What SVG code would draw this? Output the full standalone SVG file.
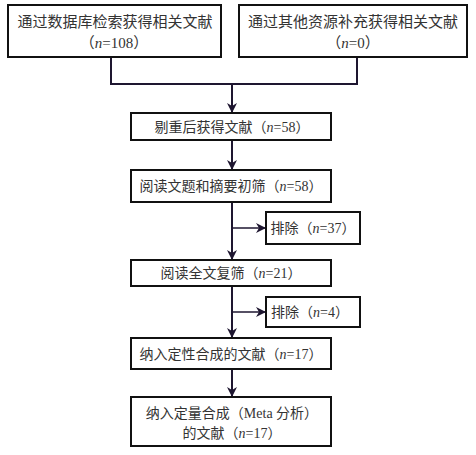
<svg xmlns="http://www.w3.org/2000/svg" width="476" height="455" viewBox="0 0 476 455">
<style>
.box{fill:#fff;stroke:#111;stroke-width:2}
.t{font-family:"Liberation Serif","Noto Sans CJK SC",serif;font-size:15px;fill:#333;text-anchor:middle}
.s{font-size:14px}
.ln{fill:none;stroke:#1e1630;stroke-width:2}
.thin{fill:none;stroke:#1e1630;stroke-width:1.3}
</style>
<defs>
<marker id="ah" markerWidth="10" markerHeight="10" refX="9" refY="5" orient="auto" markerUnits="userSpaceOnUse">
<path d="M0,0 L10,5 L0,10 L3,5 Z" fill="#1e1630"/>
</marker>
</defs>
<rect width="476" height="455" fill="#fff"/>
<g id="connectors">
<path class="ln" d="M111,57 V84 H357 V57"/>
<path class="ln" d="M232,84 V112" marker-end="url(#ah)"/>
<path class="ln" d="M232,140 V169" marker-end="url(#ah)"/>
<path class="ln" d="M232,202 V259" marker-end="url(#ah)"/>
<path class="thin" d="M232,228 H265" marker-end="url(#ah)"/>
<path class="ln" d="M232,286 V337" marker-end="url(#ah)"/>
<path class="thin" d="M232,312 H265" marker-end="url(#ah)"/>
<path class="ln" d="M232,369 V396" marker-end="url(#ah)"/>
</g>
<g id="n1"><rect class="box" x="8" y="5" width="213" height="52"/>
<text class="t" x="115" y="27">通过数据库检索获得相关文献</text>
<text class="t" x="114" y="48">（<tspan font-style="italic">n</tspan>=108）</text></g>
<g id="n2"><rect class="box" x="239" y="5" width="228" height="52"/>
<text class="t" x="353" y="27">通过其他资源补充获得相关文献</text>
<text class="t" x="353" y="48">（<tspan font-style="italic">n</tspan>=0）</text></g>
<g id="n3"><rect class="box" x="131" y="113" width="200" height="27"/>
<text class="t s" x="232" y="132">剔重后获得文献（<tspan font-style="italic">n</tspan>=58）</text></g>
<g id="n4"><rect class="box" x="131" y="170" width="200" height="32"/>
<text class="t s" x="231" y="191">阅读文题和摘要初筛（<tspan font-style="italic">n</tspan>=58）</text></g>
<g id="x1"><rect class="box" x="266" y="212" width="94" height="32"/>
<text class="t s" x="313" y="233">排除（<tspan font-style="italic">n</tspan>=37）</text></g>
<g id="n5"><rect class="box" x="131" y="260" width="200" height="26"/>
<text class="t s" x="231" y="278">阅读全文复筛（<tspan font-style="italic">n</tspan>=21）</text></g>
<g id="x2"><rect class="box" x="266" y="297" width="94" height="30"/>
<text class="t s" x="310" y="317">排除（<tspan font-style="italic">n</tspan>=4）</text></g>
<g id="n6"><rect class="box" x="131" y="338" width="200" height="31"/>
<text class="t s" x="231" y="359">纳入定性合成的文献（<tspan font-style="italic">n</tspan>=17）</text></g>
<g id="n7"><rect class="box" x="131" y="397" width="200" height="49"/>
<text class="t s" x="232" y="418">纳入定量合成（Meta 分析）</text>
<text class="t s" x="232" y="438">的文献（<tspan font-style="italic">n</tspan>=17）</text></g>
</svg>
